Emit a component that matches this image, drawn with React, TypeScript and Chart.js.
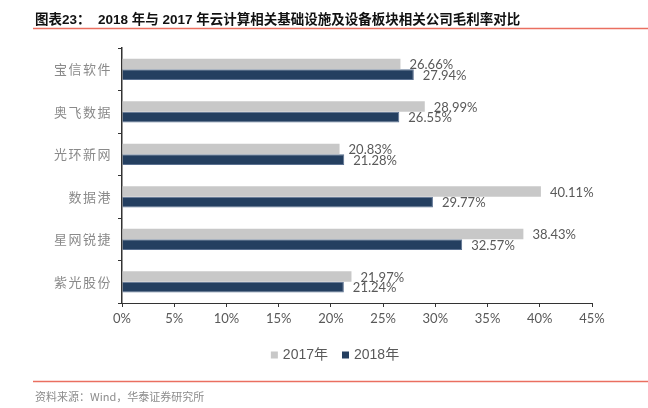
import React, { useEffect, useRef } from "react";
import { Chart, registerables } from "chart.js";

Chart.register(...registerables);

const categories = ["宝信软件", "奥飞数据", "光环新网", "数据港", "星网锐捷", "紫光股份"];
const series2017 = [26.66, 28.99, 20.83, 40.11, 38.43, 21.97];
const series2018 = [27.94, 26.55, 21.28, 29.77, 32.57, 21.24];
const seriesNames = ["2017年", "2018年"];
const xTicks = [0, 5, 10, 15, 20, 25, 30, 35, 40, 45];
const titleText = "图表23：  2018 年与 2017 年云计算相关基础设施及设备板块相关公司毛利率对比";
const sourceText = "资料来源：Wind，华泰证券研究所";

const GRAY = "#C8C8C8";
const NAVY = "#243F60";
const RED = "#EA6F60";

const decorPlugin = {
  id: "decor",
  beforeDraw(chart: any) {
    const ys = chart.scales.y;
    if (ys && !ys.__spaced) {
      const orig = ys.drawLabels;
      ys.drawLabels = function (area: any) {
        const c = this.ctx as any;
        c.save();
        c.letterSpacing = "1.5px";
        orig.call(this, area);
        c.restore();
      };
      ys.__spaced = true;
    }
  },
  afterDatasetsDraw(chart: any) {
    const ctx = chart.ctx as CanvasRenderingContext2D;
    ctx.save();
    ctx.font = '13px Lato, "Noto Sans CJK SC", sans-serif';
    ctx.fillStyle = "#595959";
    ctx.textAlign = "left";
    ctx.textBaseline = "middle";
    chart.data.datasets.forEach((ds: any, di: number) => {
      const meta = chart.getDatasetMeta(di);
      meta.data.forEach((el: any, i: number) => {
        const v = ds.data[i];
        ctx.fillText(v.toFixed(2) + "%", el.x + 9, el.y + 1);
      });
    });
    ctx.restore();
  },
  afterDraw(chart: any) {
    const ctx = chart.ctx as CanvasRenderingContext2D;
    const W = chart.width;
    ctx.save();
    ctx.font = 'bold 13.5px "Liberation Sans", "Noto Sans CJK SC", sans-serif';
    ctx.fillStyle = "#111111";
    ctx.textAlign = "left";
    ctx.textBaseline = "middle";
    ctx.fillText(titleText, 35, 20);
    ctx.strokeStyle = RED;
    ctx.lineWidth = 1.5;
    ctx.beginPath();
    ctx.moveTo(33, 28.5);
    ctx.lineTo(W, 28.5);
    ctx.moveTo(33, 381.5);
    ctx.lineTo(W, 381.5);
    ctx.stroke();
    ctx.font = '11px "Noto Sans CJK SC", "Liberation Sans", sans-serif';
    ctx.fillStyle = "#8C8C8C";
    ctx.fillText(sourceText, 35, 397);
    ctx.font = '14px "Liberation Sans", "Noto Sans CJK SC", sans-serif';
    const box = 7, gapBox = 5, gapItem = 14;
    const items = chart.data.datasets.map((ds: any) => ({
      label: ds.label,
      color: ds.backgroundColor,
      w: ctx.measureText(ds.label).width,
    }));
    let total = 0;
    items.forEach((it: any, i: number) => {
      total += box + gapBox + it.w + (i < items.length - 1 ? gapItem : 0);
    });
    let x = 335 - total / 2;
    const cy = 355;
    items.forEach((it: any) => {
      ctx.fillStyle = it.color;
      ctx.fillRect(x, cy - 3.5, box, box);
      x += box + gapBox;
      ctx.fillStyle = "#595959";
      ctx.fillText(it.label, x, cy);
      x += it.w + gapItem;
    });
    ctx.restore();
  },
};

export default function App() {
  const ref = useRef<HTMLCanvasElement | null>(null);
  useEffect(() => {
    if (!ref.current) return;
    const chart = new Chart(ref.current, {
      type: "bar",
      data: {
        labels: categories,
        datasets: [
          {
            label: seriesNames[0],
            data: series2017,
            backgroundColor: GRAY,
            borderWidth: 0,
            categoryPercentage: 0.5,
            barPercentage: 1,
          },
          {
            label: seriesNames[1],
            data: series2018,
            backgroundColor: NAVY,
            borderColor: "#5A7090",
            borderWidth: 1,
            categoryPercentage: 0.5,
            barPercentage: 1,
          },
        ],
      },
      options: {
        indexAxis: "y",
        responsive: false,
        animation: false,
        events: [],
        layout: { padding: { left: 0, right: 56, top: 48, bottom: 0 } },
        plugins: {
          legend: { display: false },
          tooltip: { enabled: false },
          title: { display: false },
        },
        scales: {
          x: {
            type: "linear",
            min: 0,
            max: 45,
            afterBuildTicks: (scale: any) => {
              scale.ticks = xTicks.map((v) => ({ value: v }));
            },
            afterFit: (scale: any) => {
              scale.height = 105;
            },
            grid: {
              drawOnChartArea: false,
              drawTicks: true,
              tickLength: 4,
              color: "#333333",
            },
            border: { display: true, color: "#333333", width: 1 },
            ticks: {
              padding: 4,
              color: "#595959",
              font: { family: "Lato, sans-serif", size: 13 },
              callback: (v: any) => v + "%",
            },
          },
          y: {
            type: "category",
            afterFit: (scale: any) => {
              scale.width = 122;
            },
            grid: {
              offset: true,
              drawOnChartArea: false,
              drawTicks: true,
              tickLength: 4,
              color: "#333333",
            },
            border: { display: true, color: "#333333", width: 1.5 },
            ticks: {
              padding: 6,
              color: "#8A8A8A",
              font: { family: '"Noto Sans CJK SC", sans-serif', size: 13 },
            },
          },
        },
      },
      plugins: [decorPlugin],
    });
    return () => chart.destroy();
  }, []);
  return (
    <div style={{ position: "absolute", left: 0, top: 0, width: 648, height: 408, background: "#fff" }}>
      <canvas ref={ref} width={648} height={408} style={{ display: "block", width: 648, height: 408 }} />
    </div>
  );
}
